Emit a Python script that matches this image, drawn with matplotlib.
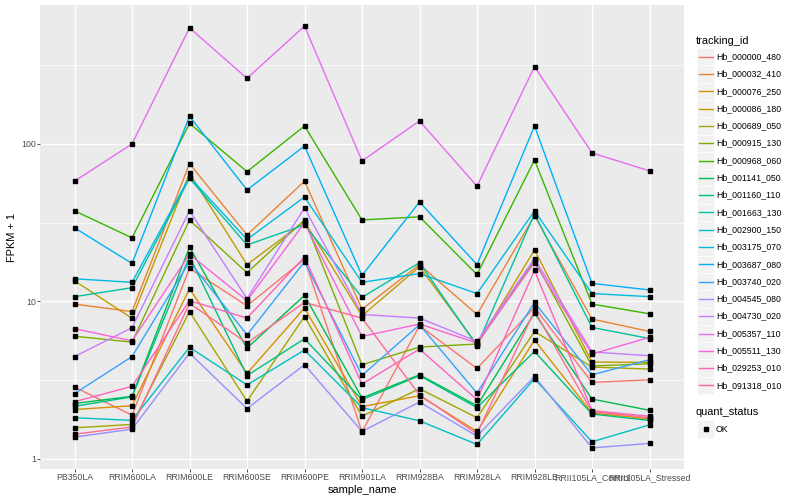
import matplotlib
matplotlib.use("Agg")
import matplotlib.pyplot as plt
from matplotlib.lines import Line2D
from matplotlib.patches import Rectangle
import numpy as np

samples = ["PB350LA", "RRIM600LA", "RRIM600LE", "RRIM600SE", "RRIM600PE",
           "RRIM901LA", "RRIM928BA", "RRIM928LA", "RRIM928LE",
           "RRII105LA_Control", "RRII105LA_Stressed"]

tracking_ids = ["Hb_000000_480", "Hb_000032_410", "Hb_000076_250", "Hb_000086_180",
                "Hb_000689_050", "Hb_000915_130", "Hb_000968_060", "Hb_001141_050",
                "Hb_001160_110", "Hb_001663_130", "Hb_002900_150", "Hb_003175_070",
                "Hb_003687_080", "Hb_003740_020", "Hb_004545_080", "Hb_004730_020",
                "Hb_005357_110", "Hb_005511_130", "Hb_029253_010", "Hb_091318_010"]

colors = ["#F8766D", "#EA8331", "#D89000", "#C09B00", "#A3A500", "#7CAE00",
          "#39B600", "#00BB4E", "#00BF7D", "#00C1A3", "#00BFC4", "#00BAE0",
          "#00B0F6", "#35A2FF", "#9590FF", "#C77CFF", "#E76BF3", "#FA62DB",
          "#FF62BC", "#FF6C91"]

fpkm_plus_1 = [
    [2.85, 1.89, 16.2, 9.36, 18.5, 1.48, 7.0, 3.74, 9.14, 3.05, 3.17],
    [9.6, 8.6, 75, 26.4, 58, 8.9, 17.1, 8.25, 35, 7.71, 6.43],
    [2.05, 2.17, 12.0, 3.48, 9.06, 2.14, 2.51, 1.49, 5.67, 1.95, 1.79],
    [13.5, 7.8, 65, 17.1, 32.1, 8.09, 16.6, 5.3, 21.2, 4.11, 4.09],
    [1.57, 1.65, 8.6, 2.32, 8.0, 1.86, 2.78, 1.82, 6.43, 3.82, 3.71],
    [6.0, 5.5, 32.8, 15.2, 32.9, 3.95, 5.12, 5.35, 18.2, 3.88, 4.01],
    [37.6, 25.3, 135, 66.7, 130, 32.9, 34.4, 14.8, 79, 9.6, 8.33],
    [2.24, 2.49, 22.1, 5.04, 10.9, 2.43, 3.41, 2.17, 8.41, 2.39, 2.03],
    [2.15, 2.47, 19.3, 3.37, 5.78, 2.37, 3.37, 2.11, 4.8, 1.92, 1.75],
    [10.7, 12.2, 60.5, 22.8, 30.6, 10.6, 17.6, 5.22, 36, 6.82, 5.8],
    [1.82, 1.75, 5.1, 2.94, 4.9, 2.11, 1.74, 1.23, 3.22, 1.28, 1.64],
    [13.9, 13.2, 61.7, 24.7, 46, 13.2, 15.0, 11.2, 37.5, 11.2, 10.7],
    [29.3, 17.4, 150, 51, 97, 14.6, 42.8, 17.1, 130, 13.0, 11.8],
    [2.59, 4.45, 17.9, 6.12, 17.8, 3.38, 7.1, 2.61, 9.83, 3.41, 4.25],
    [1.37, 1.54, 4.69, 2.08, 3.95, 1.49, 2.29, 1.39, 3.33, 1.17, 1.25],
    [4.45, 6.8, 37.6, 10.4, 39.2, 8.25, 7.82, 5.56, 18.7, 4.76, 4.51],
    [58, 100, 547, 261, 561, 78, 140, 53.9, 310, 87.7, 67.4],
    [6.7, 5.6, 19.9, 10.1, 31.5, 5.98, 7.17, 5.43, 17.6, 4.62, 5.9],
    [2.30, 2.88, 10.1, 7.82, 19.1, 2.98, 4.97, 2.37, 15.7, 2.02, 1.86],
    [1.43, 1.59, 9.7, 5.43, 9.83, 7.82, 2.54, 1.44, 8.71, 1.99, 1.82],
]

y_ticks = [1, 10, 100]
y_tick_labels = ["1", "10", "100"]
y_minor = [10 ** 0.5, 10 ** 1.5, 10 ** 2.5]

W, H = 800, 500
fig = plt.figure(figsize=(W / 100, H / 100), dpi=100)
plt.rcParams['font.family'] = ['Liberation Sans', 'DejaVu Sans']

def fx(px):
    return px / W

def fy(py):
    return 1 - py / H

pl, pr, pt, pb = 40, 684, 5, 469
ax = fig.add_axes([fx(pl), fy(pb), fx(pr - pl), (pb - pt) / H])
ax.set_facecolor("#EBEBEB")
for s in ax.spines.values():
    s.set_visible(False)

# log scale with ggplot-like 5% expansion of the data range
allv = np.array(fpkm_plus_1, dtype=float)
lo, hi = np.log10(allv.min()), np.log10(allv.max())
ex = 0.05 * (hi - lo)
ax.set_yscale("log")
ax.set_ylim(10 ** (lo - ex), 10 ** (hi + ex))
ax.set_xlim(-0.6, len(samples) - 1 + 0.6)

x = np.arange(len(samples))
for i in range(len(samples)):
    ax.axvline(i, color="white", lw=1.0, zorder=0.5)
for v in y_ticks:
    ax.axhline(v, color="white", lw=1.0, zorder=0.5)
for v in y_minor:
    ax.axhline(v, color="white", lw=0.5, zorder=0.5)

for vals, c in zip(fpkm_plus_1, colors):
    ax.plot(x, vals, color=c, lw=1.0, zorder=2, solid_capstyle="butt")
for vals in fpkm_plus_1:
    ax.plot(x, vals, ls="none", marker="s", ms=2.5, color="black", zorder=3)

ax.set_yticks(y_ticks)
ax.set_yticklabels(y_tick_labels)
ax.yaxis.set_minor_locator(matplotlib.ticker.NullLocator())
ax.set_xticks(x)
ax.set_xticklabels(samples)
ax.tick_params(axis="both", length=2.0, width=0.6, color="#333333",
               labelcolor="#4D4D4D", labelsize=6.3, pad=1.0)
ax.set_xlabel("sample_name", fontsize=7.9, color="black", labelpad=2.0)
ax.set_ylabel("FPKM + 1", fontsize=7.9, color="black", labelpad=3)

# legend: tracking_id
fig.text(fx(696), fy(40.7), "tracking_id", fontsize=7.9, va="center", ha="left")
key_w = 17.3
y0 = 56.7
for k, (tid, c) in enumerate(zip(tracking_ids, colors)):
    yc = y0 + k * key_w
    fig.add_artist(Rectangle((fx(697), fy(yc + key_w / 2)), key_w / W, key_w / H,
                             transform=fig.transFigure, facecolor="#F2F2F2",
                             edgecolor="white", lw=0.5))
    fig.add_artist(Line2D([fx(698.7), fx(712.6)], [fy(yc), fy(yc)],
                          transform=fig.transFigure, color=c, lw=1.0))
    fig.text(fx(716.5), fy(yc), tid, fontsize=6.3, va="center", ha="left")

# legend: quant_status
fig.text(fx(696), fy(412), "quant_status", fontsize=7.9, va="center", ha="left")
yq = 429
fig.add_artist(Rectangle((fx(697), fy(yq + key_w / 2)), key_w / W, key_w / H,
                         transform=fig.transFigure, facecolor="#F2F2F2",
                         edgecolor="white", lw=0.5))
fig.add_artist(Line2D([fx(705.6)], [fy(yq)], transform=fig.transFigure,
                      marker="s", ms=2.5, color="black", ls="none"))
fig.text(fx(715.5), fy(yq), "OK", fontsize=6.3, va="center", ha="left")

fig.savefig("out.png", dpi=100)
